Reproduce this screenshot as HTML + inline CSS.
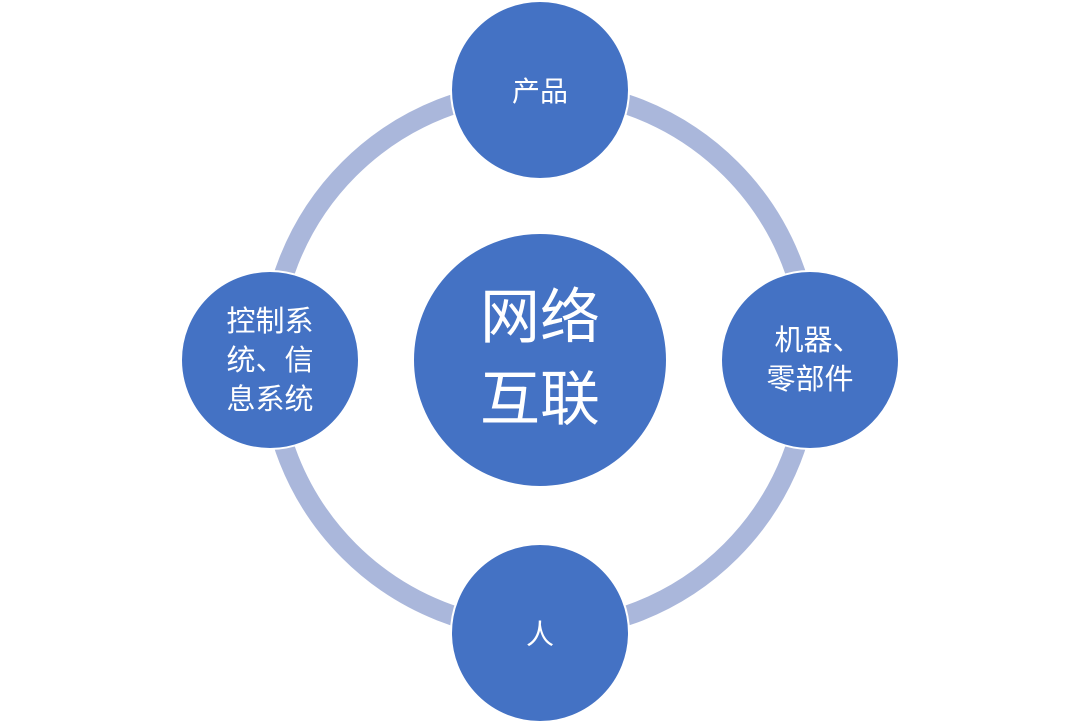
<!DOCTYPE html>
<html><head><meta charset="utf-8"><style>
html,body{margin:0;padding:0;background:#fff;}
svg{display:block;}
text{font-family:"Liberation Sans","Noto Sans CJK SC",sans-serif;fill:#fff;text-anchor:middle;}
</style></head><body>
<svg width="1080" height="721" viewBox="0 0 1080 721">
<circle cx="540" cy="360" r="270" fill="none" stroke="#AAB7DB" stroke-width="20"/>
<g fill="#4472C4" stroke="#fff" stroke-width="2">
<circle cx="540" cy="360" r="127"/>
<circle cx="540" cy="90" r="89"/>
<circle cx="540" cy="633" r="89"/>
<circle cx="270" cy="360" r="89"/>
<circle cx="810" cy="360" r="89"/>
</g>
<text x="540" y="338" font-size="60">网络</text>
<text x="540" y="420" font-size="60">互联</text>
<text x="540" y="101" font-size="28">产品</text>
<text x="540" y="644" font-size="28">人</text>
<text x="270" y="331" font-size="29">控制系</text>
<text x="270" y="370" font-size="29">统、信</text>
<text x="270" y="409" font-size="29">息系统</text>
<text x="818" y="350" font-size="29">机器、</text>
<text x="810" y="389" font-size="29">零部件</text>
</svg>
</body></html>
